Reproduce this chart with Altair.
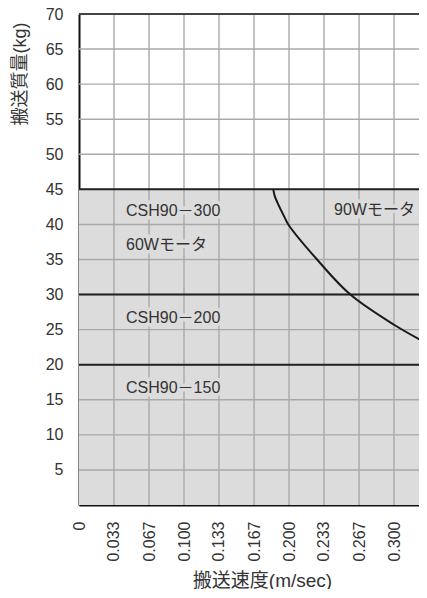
import altair as alt
import pandas as pd

# ---- data ----
y_ticks = [0, 5, 10, 15, 20, 25, 30, 35, 40, 45, 50, 55, 60, 65, 70]
x_ticks = [0, 0.0333, 0.0667, 0.1, 0.1333, 0.1667, 0.2, 0.2333, 0.2667, 0.3, 0.3333]

region_x = [0, 0.3333]
region_y = [0, 45]

boundary_mass = [45, 30, 20]

curve_speed = [0.1850, 0.1865, 0.1893, 0.1925, 0.1958, 0.1993, 0.2267, 0.2584, 0.3, 0.3324]
curve_mass = [45.0, 44.0, 43.0, 42.0, 41.0, 40.0, 35.0, 30.0, 25.7, 22.95]

label_text = ["CSH90－300", "60Wモータ", "CSH90－200", "CSH90－150", "90Wモータ"]
label_speed = [0.0448, 0.0448, 0.0448, 0.0448, 0.2429]
label_mass = [41.9, 37.1, 26.7, 16.7, 42.0]

FONT = "Liberation Sans, Noto Sans CJK JP"
BG = "#dcdcdc"
GRID = "#a9a9a9"

xs = alt.Scale(domain=[x_ticks[0], x_ticks[-1]], nice=False)
ys = alt.Scale(domain=[y_ticks[0], y_ticks[-1]], nice=False)

x_axis = alt.Axis(values=x_ticks, title="搬送速度(m/sec)",
                  labelExpr="datum.value == 0 ? '0' : format(datum.value, '.3f')",
                  labelAngle=270, labelPadding=16, tickSize=0, grid=False,
                  labelOverlap=False, labelBound=False, labelFlush=False,
                  domainColor="#111", domainWidth=2,
                  labelFont=FONT, labelFontSize=16, labelColor="#333",
                  titleFont=FONT, titleFontSize=19, titleColor="#333",
                  titleFontWeight="normal", titleX=183, titleY=75,
                  titleBaseline="middle", titleAlign="center")
y_axis = alt.Axis(values=y_ticks, title="搬送質量(kg)",
                  labelExpr="datum.value == 0 ? '' : datum.label",
                  labelPadding=16, tickSize=0, grid=False,
                  labelOverlap=False, labelBound=False, labelFlush=False,
                  domainColor="#111", domainWidth=2,
                  labelFont=FONT, labelFontSize=16, labelColor="#333",
                  titleFont=FONT, titleFontSize=18, titleColor="#333",
                  titleFontWeight="normal", titleAngle=270,
                  titleX=-59, titleY=8, titleAlign="right",
                  titleBaseline="middle")


def X(field):
    return alt.X(field, scale=xs, axis=x_axis)


def Y(field):
    return alt.Y(field, scale=ys, axis=y_axis)


region_df = pd.DataFrame({"x": [region_x[0]], "x2": [region_x[1]],
                          "y": [region_y[0]], "y2": [region_y[1]]})
region = alt.Chart(region_df).mark_rect(color=BG).encode(
    x=X("x:Q"), x2="x2:Q", y=Y("y:Q"), y2="y2:Q")

xgrid = alt.Chart(pd.DataFrame({"v": x_ticks[1:]})).mark_rule(
    color=GRID, strokeWidth=1.4).encode(x=X("v:Q"))
ygrid = alt.Chart(pd.DataFrame({"v": y_ticks[1:-1]})).mark_rule(
    color=GRID, strokeWidth=1.4).encode(y=Y("v:Q"))

top_border = alt.Chart(pd.DataFrame({"v": [y_ticks[-1]]})).mark_rule(
    color="#444", strokeWidth=2).encode(y=Y("v:Q"))

bounds = alt.Chart(pd.DataFrame({"v": boundary_mass})).mark_rule(
    color="#222", strokeWidth=2).encode(y=Y("v:Q"))

curve = alt.Chart(pd.DataFrame({"s": curve_speed, "m": curve_mass})).mark_line(
    color="#1a1a1a", strokeWidth=2, interpolate="catmull-rom", clip=True).encode(
    x=X("s:Q"), y=Y("m:Q"), order="s:Q")

lab_df = pd.DataFrame({"t": label_text, "s": label_speed, "m": label_mass})
halo = alt.Chart(lab_df).mark_text(
    align="left", baseline="middle", font=FONT, fontSize=16,
    color=BG, stroke=BG, strokeWidth=7).encode(
    x=X("s:Q"), y=Y("m:Q"), text="t:N")
labels = alt.Chart(lab_df).mark_text(
    align="left", baseline="middle", font=FONT, fontSize=16, color="#333").encode(
    x=X("s:Q"), y=Y("m:Q"), text="t:N")

chart = alt.layer(region, xgrid, ygrid, halo, top_border, bounds, curve, labels).properties(
    width=350, height=491,
    padding={"left": 71, "top": 6, "right": -10, "bottom": 84},
    autosize=alt.AutoSizeParams(type="none"),
).configure_view(stroke=None).configure(background="white")

chart.save("out.html", embed_options={"renderer": "svg", "actions": False})
